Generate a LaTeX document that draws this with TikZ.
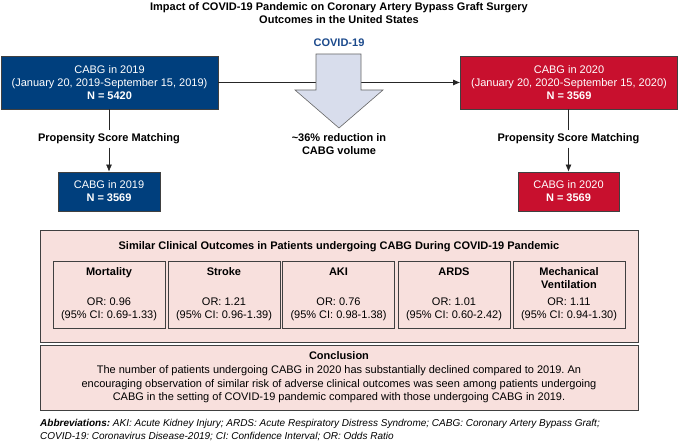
\documentclass[tikz,border=0pt]{standalone}
\usepackage{fontspec}
\setmainfont{Liberation Sans}
\usetikzlibrary{arrows.meta}
\definecolor{cabgblue}{RGB}{0,63,125}
\definecolor{cabgred}{RGB}{200,16,46}
\definecolor{pinkbg}{RGB}{248,224,221}
\definecolor{arrowfill}{RGB}{216,221,236}
\definecolor{covidblue}{RGB}{28,74,140}
\frenchspacing

\begin{document}
\begin{tikzpicture}[x=1pt, y=-1pt, font=\fontsize{11}{13}\selectfont,
  box/.style={draw=black!75, line width=0.7pt, align=center, inner sep=0pt},
  bluebox/.style={box, fill=cabgblue, text=white},
  redbox/.style={box, fill=cabgred, text=white},
  pinkbox/.style={box, fill=pinkbg},
  outbox/.style={box, minimum width=112, minimum height=67},
  conn/.style={line width=0.7pt, black!85},
  tip/.style={conn, -{Latex[length=7pt, width=6pt]}}]
  \useasboundingbox (0,0) rectangle (678,443);
  % title
  \node[font=\fontsize{11}{13}\selectfont\bfseries, align=center] (title) at (339,13)
    {Impact of COVID-19 Pandemic on Coronary Artery Bypass Graft Surgery\\Outcomes in the United States};
  % cohorts before matching
  \node[bluebox, minimum width=217, minimum height=53] (b19) at (109.5,82.5)
    {CABG in 2019\\(January 20, 2019-September 15, 2019)\\\textbf{N = 5420}};
  \node[redbox, minimum width=217, minimum height=53] (b20) at (569,82.5)
    {CABG in 2020\\(January 20, 2020-September 15, 2020)\\\textbf{N = 3569}};
  \draw[tip] (b19.east) -- (b20.west);
  % big arrow over the line
  \filldraw[fill=arrowfill, draw=black!60, line width=0.6pt]
    (316,54) -- (361,54) -- (361,90) -- (383,90) -- (339,128) -- (295,90) -- (316,90) -- cycle;
  \node[font=\fontsize{11}{13}\selectfont\bfseries, text=covidblue] (covid) at (339,43) {COVID-19};
  \node[font=\fontsize{11}{13}\selectfont\bfseries, align=center] (drop) at (339,144.5)
    {\textasciitilde36\% reduction in\\CABG volume};
  % matching
  \node[font=\fontsize{11}{13}\selectfont\bfseries] (psm19) at (109,139) {Propensity Score Matching};
  \node[font=\fontsize{11}{13}\selectfont\bfseries] (psm20) at (568.5,139) {Propensity Score Matching};
  \node[bluebox, minimum width=102, minimum height=39] (m19) at (109,191.5)
    {CABG in 2019\\\textbf{N = 3569}};
  \node[redbox, minimum width=101, minimum height=39] (m20) at (568.5,191.5)
    {CABG in 2020\\\textbf{N = 3569}};
  \draw[conn] (b19.south -| psm19) -- (psm19.north);
  \draw[tip] (psm19.south) -- (m19.north);
  \draw[conn] (b20.south -| psm20) -- (psm20.north);
  \draw[tip] (psm20.south) -- (m20.north);
  % outcomes
  \node[pinkbox, minimum width=598, minimum height=112] (res) at (339,286) {};
  \node[font=\fontsize{11}{13}\selectfont\bfseries] (restitle) at (339,247)
    {Similar Clinical Outcomes in Patients undergoing CABG During COVID-19 Pandemic};
  \node[outbox] (mort) at (109,294.5)
    {\textbf{Mortality}\\[17pt]OR: 0.96\\(95\% CI: 0.69-1.33)};
  \node[outbox] (stroke) at (224,294.5)
    {\textbf{Stroke}\\[17pt]OR: 1.21\\(95\% CI: 0.96-1.39)};
  \node[outbox] (aki) at (338.5,294.5)
    {\textbf{AKI}\\[17pt]OR: 0.76\\(95\% CI: 0.98-1.38)};
  \node[outbox] (ards) at (454,294.5)
    {\textbf{ARDS}\\[17pt]OR: 1.01\\(95\% CI: 0.60-2.42)};
  \node[outbox] (mv) at (569,294.5)
    {\textbf{Mechanical}\\\textbf{Ventilation}\\[4pt]OR: 1.11\\(95\% CI: 0.94-1.30)};
  % conclusion
  \node[pinkbox, minimum width=598, minimum height=65, font=\fontsize{11}{13.7}\selectfont] (concl) at (339,377.5)
    {\textbf{Conclusion}\\The number of patients undergoing CABG in 2020 has substantially declined compared to 2019. An\\
     encouraging observation of similar risk of adverse clinical outcomes was seen among patients undergoing\\
     CABG in the setting of COVID-19 pandemic compared with those undergoing CABG in 2019.};
  % abbreviations
  \node[anchor=north west, inner sep=0pt, align=left, font=\fontsize{10}{13}\selectfont\itshape] (abbr) at (40,419.5)
    {\textbf{Abbreviations:} AKI: Acute Kidney Injury; ARDS: Acute Respiratory Distress Syndrome; CABG: Coronary Artery Bypass Graft;\\
     COVID-19: Coronavirus Disease-2019; CI: Confidence Interval; OR: Odds Ratio};
\end{tikzpicture}
\end{document}
